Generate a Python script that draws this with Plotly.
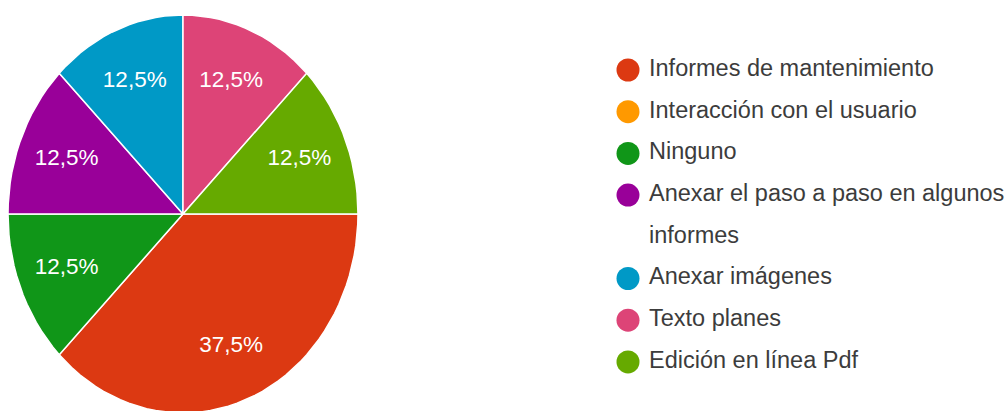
import math
import plotly.graph_objects as go

# Survey answers and response shares (%)
labels = [
    "Informes de mantenimiento",
    "Interacción con el usuario",
    "Ninguno",
    "Anexar el paso a paso en algunos\ninformes",
    "Anexar imágenes",
    "Texto planes",
    "Edición en línea Pdf",
]
values = [37.5, 0, 12.5, 12.5, 12.5, 12.5, 12.5]
colors = ["#dc3912", "#ff9900", "#109618", "#990099", "#0099c6", "#dd4477", "#66aa00"]

FONT = "Liberation Sans, Arial, sans-serif"
W, H = 1006, 411

# pie geometry in pixels (the chart is drawn slightly taller than wide)
CX_PX, CY_PX, RX_PX, RY_PX = 183, 214, 175, 199
START_DEG = 90          # first slice starts at 3 o'clock, going clockwise
LABEL_R = 0.72

# legend rows in pixels
ROW0_PX, ROW_STEP_PX = 70, 41.7
MARK_X_PX, TEXT_X_PX = 628, 649

fig = go.Figure()

total = sum(values)
cum = 0.0
lab_x, lab_y, lab_t = [], [], []
for name, v, c in zip(labels, values, colors):
    if v <= 0:
        continue
    a0 = math.radians(START_DEG) + 2 * math.pi * cum / total
    a1 = math.radians(START_DEG) + 2 * math.pi * (cum + v) / total
    n = max(8, int(120 * v / total))
    xs, ys = [0.0], [0.0]
    for i in range(n + 1):
        a = a0 + (a1 - a0) * i / n
        xs.append(math.sin(a))
        ys.append(math.cos(a))
    xs.append(0.0)
    ys.append(0.0)
    fig.add_trace(go.Scatter(
        x=xs, y=ys, mode="lines", fill="toself", fillcolor=c,
        line=dict(color="white", width=1.5), hoverinfo="skip",
        showlegend=False, xaxis="x", yaxis="y",
    ))
    am = (a0 + a1) / 2
    lab_x.append(LABEL_R * math.sin(am))
    lab_y.append(LABEL_R * math.cos(am))
    lab_t.append(f"{100 * v / total:.1f}".replace(".", ",") + "%")
    cum += v

fig.add_trace(go.Scatter(
    x=lab_x, y=lab_y, mode="text", text=lab_t,
    textfont=dict(family=FONT, size=22.5, color="white"),
    hoverinfo="skip", showlegend=False, xaxis="x", yaxis="y",
))

# legend: one circle per answer, long names continue on the next row
row = 0
mk_rows, mk_cols = [], []
tx_rows, tx_text = [], []
for name, c in zip(labels, colors):
    lines = name.split("\n")
    mk_rows.append(row)
    mk_cols.append(c)
    for ln in lines:
        tx_rows.append(row)
        tx_text.append(ln)
        row += 1

fig.add_trace(go.Scatter(
    x=[MARK_X_PX] * len(mk_rows), y=mk_rows, mode="markers",
    marker=dict(size=23, color=mk_cols, line=dict(width=0)),
    hoverinfo="skip", showlegend=False, xaxis="x2", yaxis="y2",
))
fig.add_trace(go.Scatter(
    x=[TEXT_X_PX] * len(tx_rows), y=tx_rows, mode="text", text=tx_text,
    textposition="middle right",
    textfont=dict(family=FONT, size=23.5, color="#3c3c3c"),
    hoverinfo="skip", showlegend=False, xaxis="x2", yaxis="y2",
))

# axis ranges mapping data units onto the page
y_unit = 1.0 / RY_PX
y_hi = 1 + (CY_PX - RY_PX) * y_unit
y_lo = -1 - (H - (CY_PX + RY_PX)) * y_unit
row_top = -ROW0_PX / ROW_STEP_PX
row_bot = (H - ROW0_PX) / ROW_STEP_PX

hidden = dict(visible=False, showgrid=False, zeroline=False, fixedrange=True)
fig.update_layout(
    width=W, height=H,
    margin=dict(l=0, r=0, t=0, b=0),
    paper_bgcolor="white", plot_bgcolor="rgba(0,0,0,0)",
    xaxis=dict(domain=[(CX_PX - RX_PX) / W, (CX_PX + RX_PX) / W], range=[-1, 1], **hidden),
    yaxis=dict(domain=[0, 1], range=[y_lo, y_hi], **hidden),
    xaxis2=dict(domain=[0, 1], range=[0, W], anchor="y2", **hidden),
    yaxis2=dict(domain=[0, 1], range=[row_bot, row_top], anchor="x2", **hidden),
    showlegend=False,
)

fig.write_html("out.html", config={"displayModeBar": False})
